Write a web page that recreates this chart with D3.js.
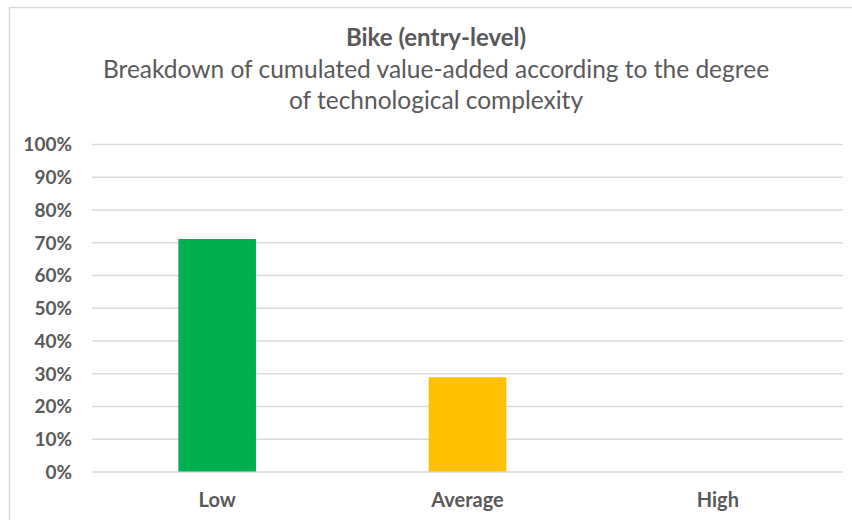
<!DOCTYPE html>
<html>
<head>
<meta charset="utf-8">
<script src="https://cdn.jsdelivr.net/npm/d3@7"></script>
<style>
  body { margin: 0; background: #fff; }
  text { font-family: Lato, "Open Sans", sans-serif; fill: #595959; }
</style>
</head>
<body>
<div id="chart"></div>
<script>
var categories = ["Low", "Average", "High"];
var values = [0.71, 0.288, 0];
var colors = ["#00B050", "#FFC000", "#A5A5A5"];
var yTicks = [0, 0.1, 0.2, 0.3, 0.4, 0.5, 0.6, 0.7, 0.8, 0.9, 1];
var title = "Bike (entry-level)";
var subtitle = ["Breakdown of cumulated value-added according to the degree",
                "of technological complexity"];

var width = 852, height = 520;
var plotLeft = 92, plotRight = 843, plotTop = 144, plotBottom = 471.5;

var svg = d3.select("#chart").append("svg")
    .attr("width", width)
    .attr("height", height);

// chart frame
svg.append("rect")
    .attr("x", 9.5).attr("y", 7.5)
    .attr("width", width).attr("height", height)
    .attr("fill", "none")
    .attr("stroke", "#d9d9d9")
    .attr("stroke-width", 1.5);

var x = d3.scaleBand()
    .domain(categories)
    .range([plotLeft, plotRight])
    .paddingInner(0.69)
    .paddingOuter(0.345);

var y = d3.scaleLinear()
    .domain([0, 1])
    .range([plotBottom, plotTop]);

// grid lines
var yAxis = d3.axisLeft(y)
    .tickValues(yTicks)
    .tickSize(-(plotRight - plotLeft))
    .tickPadding(20)
    .tickFormat(d3.format(".0%"));

var gy = svg.append("g")
    .attr("transform", "translate(" + plotLeft + ",0)")
    .call(yAxis);
gy.select(".domain").remove();
gy.selectAll(".tick line")
    .attr("stroke", "#d9d9d9")
    .attr("stroke-width", 1.3);
gy.selectAll(".tick text")
    .attr("x", -20)
    .attr("dy", "0.36em")
    .style("font-size", "19px")
    .style("font-weight", "bold");

// bars
svg.selectAll("rect.bar")
    .data(values)
    .enter()
    .append("rect")
    .attr("class", "bar")
    .attr("x", function (d, i) { return x(categories[i]); })
    .attr("width", x.bandwidth())
    .attr("y", function (d) { return y(d); })
    .attr("height", function (d) { return y(0) - y(d); })
    .attr("fill", function (d, i) { return colors[i]; });

// x axis labels
var xAxis = d3.axisBottom(x).tickSize(0).tickPadding(21);
var gx = svg.append("g")
    .attr("transform", "translate(0," + plotBottom + ")")
    .call(xAxis);
gx.select(".domain").remove();
gx.selectAll(".tick text")
    .style("font-size", "20px")
    .style("font-weight", "bold");

// titles
var cx = 436;
svg.append("text")
    .attr("x", cx).attr("y", 46)
    .attr("text-anchor", "middle")
    .style("font-size", "24px")
    .style("font-weight", "bold")
    .text(title);

svg.selectAll("text.sub")
    .data(subtitle)
    .enter()
    .append("text")
    .attr("class", "sub")
    .attr("x", cx)
    .attr("y", function (d, i) { return 78 + i * 31; })
    .attr("text-anchor", "middle")
    .style("font-size", "24.5px")
    .text(function (d) { return d; });
</script>
</body>
</html>
